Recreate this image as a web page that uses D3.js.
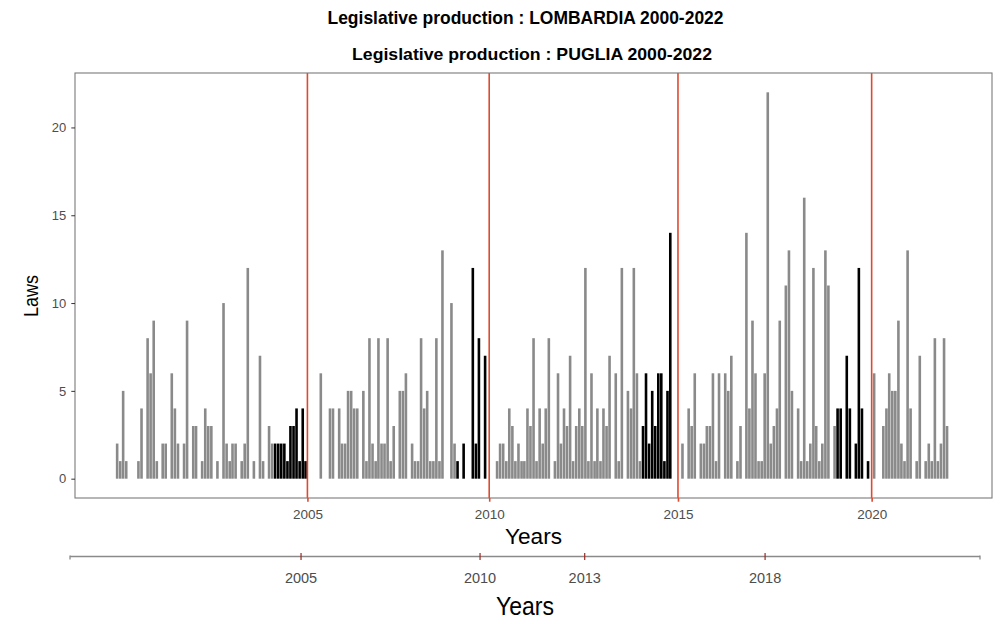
<!DOCTYPE html>
<html>
<head>
<meta charset="utf-8">
<script src="https://cdn.jsdelivr.net/npm/d3@7"></script>
<style>
  body { margin: 0; background: #fff; }
  text { font-family: "Liberation Sans", Arial, Helvetica, sans-serif; }
</style>
</head>
<body>
<svg id="chart" width="1002" height="624"></svg>
<script>
// Regional laws passed per month, Puglia 2000-2022 (one row per year, Jan..Dec)
const years = d3.range(2000, 2023);
const monthlyLaws = [
  [2, 1, 5, 1, 0, 0, 0, 1, 4, 0, 8, 6],      // 2000
  [9, 1, 0, 2, 2, 0, 6, 4, 2, 0, 2, 9],      // 2001
  [0, 3, 3, 0, 1, 4, 3, 3, 0, 1, 0, 10],     // 2002
  [2, 1, 2, 2, 0, 1, 2, 12, 0, 1, 0, 7],     // 2003
  [1, 0, 3, 2, 2, 2, 2, 2, 1, 3, 3, 4],      // 2004
  [1, 4, 1, 0, 0, 0, 0, 6, 0, 0, 4, 4],      // 2005
  [0, 4, 2, 2, 5, 5, 4, 4, 0, 5, 1, 8],      // 2006
  [2, 1, 8, 2, 2, 8, 1, 3, 0, 5, 5, 6],      // 2007
  [0, 2, 1, 1, 8, 4, 5, 1, 1, 8, 1, 13],     // 2008
  [0, 0, 10, 2, 1, 0, 2, 0, 0, 12, 2, 8],    // 2009
  [0, 7, 0, 0, 0, 1, 2, 2, 1, 4, 3, 1],      // 2010
  [2, 1, 1, 4, 3, 8, 1, 4, 2, 4, 8, 0],      // 2011
  [1, 6, 2, 4, 3, 7, 1, 3, 4, 3, 12, 1],     // 2012
  [6, 1, 4, 1, 4, 3, 7, 0, 6, 1, 12, 0],     // 2013
  [5, 4, 12, 6, 1, 3, 6, 2, 5, 3, 6, 6],     // 2014
  [1, 5, 14, 0, 0, 0, 2, 0, 4, 3, 6, 0],     // 2015
  [2, 2, 3, 3, 6, 1, 6, 0, 6, 5, 7, 0],      // 2016
  [1, 3, 0, 14, 4, 9, 6, 1, 1, 6, 22, 2],    // 2017
  [3, 4, 9, 0, 11, 13, 5, 0, 4, 1, 16, 1],   // 2018
  [2, 12, 3, 1, 2, 13, 11, 0, 3, 4, 4, 0],   // 2019
  [7, 4, 0, 2, 12, 4, 0, 1, 0, 6, 0, 0],     // 2020
  [3, 4, 6, 5, 5, 9, 2, 1, 13, 4, 0, 1],     // 2021
  [7, 0, 1, 2, 1, 8, 1, 2, 8, 3, 0, 0]       // 2022
];

// Puglia regional elections (red lines) and the first month of each outgoing council's last year
const pugliaElections = ["2005-04-03", "2010-03-28", "2015-05-31", "2020-09-20"];
const pugliaElectionLabels = ["2005", "2010", "2015", "2020"];
const finalYearStart = ["2004-05", "2009-05", "2014-06", "2019-10"];

// Lombardia regional elections, on the axis of the companion chart
const lombardiaElections = ["2005-04-03", "2010-03-28", "2013-02-24", "2018-03-04"];
const lombardiaElectionLabels = ["2005", "2010", "2013", "2018"];

const yTicks = [0, 5, 10, 15, 20];

const parseDay = d3.utcParse("%Y-%m-%d");
const parseMonth = d3.utcParse("%Y-%m");

const elections = pugliaElections.map(parseDay);
const finalStarts = finalYearStart.map(parseMonth);

const data = [];
years.forEach((yr, i) => {
  monthlyLaws[i].forEach((v, m) => {
    const date = new Date(Date.UTC(yr, m, 15));
    const final = elections.some((e, k) => date >= finalStarts[k] && date < e);
    data.push({ date, laws: v, final });
  });
});

const svg = d3.select("#chart");
svg.append("rect").attr("width", 1002).attr("height", 624).attr("fill", "#fff");

// ---- Titles -------------------------------------------------------------
svg.append("text")
  .attr("x", 525.5).attr("y", 24)
  .attr("text-anchor", "middle")
  .attr("font-size", 18.5).attr("font-weight", "bold").attr("fill", "#000")
  .attr("textLength", 396).attr("lengthAdjust", "spacingAndGlyphs")
  .text("Legislative production : LOMBARDIA 2000-2022");

svg.append("text")
  .attr("x", 532).attr("y", 59.5)
  .attr("text-anchor", "middle")
  .attr("font-size", 16.5).attr("font-weight", "bold").attr("fill", "#000")
  .attr("textLength", 360).attr("lengthAdjust", "spacingAndGlyphs")
  .text("Legislative production : PUGLIA 2000-2022");

// ---- Main panel ---------------------------------------------------------
const panel = { left: 75, right: 992, top: 73, bottom: 498 };

const x = d3.scaleUtc()
  .domain([parseDay("1998-11-19"), parseDay("2024-01-08")])
  .range([panel.left, panel.right]);

const y = d3.scaleLinear()
  .domain([-1.1, 23.1])
  .range([panel.bottom, panel.top]);

const barW = x(parseDay("2000-01-27")) - x(parseDay("2000-01-01"));

const g = svg.append("g");

g.selectAll("rect.bar")
  .data(data.filter(d => d.laws > 0))
  .join("rect")
  .attr("class", "bar")
  .attr("x", d => x(d.date) - barW / 2)
  .attr("width", barW)
  .attr("y", d => y(d.laws))
  .attr("height", d => y(0) - y(d.laws))
  .attr("fill", d => d.final ? "#000000" : "#8a8a8a");

// election markers
const red = "#de4a2e";
g.selectAll("line.election")
  .data(elections)
  .join("line")
  .attr("class", "election")
  .attr("x1", d => x(d)).attr("x2", d => x(d))
  .attr("y1", panel.top).attr("y2", panel.bottom)
  .attr("stroke", red).attr("stroke-width", 1.6);

// panel border
svg.append("rect")
  .attr("x", panel.left).attr("y", panel.top)
  .attr("width", panel.right - panel.left)
  .attr("height", panel.bottom - panel.top)
  .attr("fill", "none").attr("stroke", "#7a7a7a").attr("stroke-width", 1.1);

// ---- Y axis ---------------------------------------------------------------
const yAxis = svg.append("g")
  .attr("transform", `translate(${panel.left},0)`)
  .call(d3.axisLeft(y).tickValues(yTicks).tickSize(3.7).tickPadding(5));
yAxis.select(".domain").remove();
yAxis.selectAll(".tick line").attr("stroke", "#333");
yAxis.selectAll(".tick text")
  .attr("fill", "#4d4d4d").attr("font-size", 13)
  .attr("font-family", "Liberation Sans, Arial, sans-serif");

svg.append("text")
  .attr("transform", "translate(38,296) rotate(-90)")
  .attr("text-anchor", "middle")
  .attr("font-size", 21).attr("fill", "#000")
  .attr("textLength", 42).attr("lengthAdjust", "spacingAndGlyphs")
  .text("Laws");

// ---- X axis (Puglia) ------------------------------------------------------
const xAxis = svg.append("g")
  .attr("transform", `translate(0,${panel.bottom})`)
  .call(d3.axisBottom(x)
    .tickValues(elections)
    .tickFormat((d, i) => pugliaElectionLabels[i])
    .tickSize(3.7).tickPadding(7.5));
xAxis.select(".domain").remove();
xAxis.selectAll(".tick line").attr("stroke", red).attr("stroke-width", 1.6);
xAxis.selectAll(".tick text")
  .attr("fill", "#4d4d4d").attr("font-size", 13.5)
  .attr("font-family", "Liberation Sans, Arial, sans-serif");

svg.append("text")
  .attr("x", (panel.left + panel.right) / 2).attr("y", 543.5)
  .attr("text-anchor", "middle")
  .attr("font-size", 22).attr("fill", "#000")
  .attr("textLength", 57).attr("lengthAdjust", "spacingAndGlyphs")
  .text("Years");

// ---- X axis of the Lombardia chart ----------------------------------------
const x2 = d3.scaleUtc()
  .domain([parseDay("1998-10-28"), parseDay("2024-02-26")])
  .range([70, 980]);

const axisY = 556.5;
const lower = svg.append("g").attr("transform", `translate(0,${axisY})`);
lower.append("line")
  .attr("x1", x2.range()[0]).attr("x2", x2.range()[1])
  .attr("y1", 0).attr("y2", 0)
  .attr("stroke", "#8a8a8a").attr("stroke-width", 1.5);
lower.selectAll("line.end")
  .data(x2.range())
  .join("line")
  .attr("class", "end")
  .attr("x1", d => d).attr("x2", d => d)
  .attr("y1", -1).attr("y2", 3)
  .attr("stroke", "#8a8a8a").attr("stroke-width", 1.3);

const lomb = lombardiaElections.map(parseDay);
lower.selectAll("line.tick")
  .data(lomb)
  .join("line")
  .attr("class", "tick")
  .attr("x1", d => x2(d)).attr("x2", d => x2(d))
  .attr("y1", -3.5).attr("y2", 3.5)
  .attr("stroke", "#9b2a22").attr("stroke-width", 1.2);
lower.selectAll("text.lbl")
  .data(lomb)
  .join("text")
  .attr("class", "lbl")
  .attr("x", d => x2(d)).attr("y", 26.5)
  .attr("text-anchor", "middle")
  .attr("font-size", 14.5).attr("fill", "#4d4d4d")
  .text((d, i) => lombardiaElectionLabels[i]);

svg.append("text")
  .attr("x", 525).attr("y", 615)
  .attr("text-anchor", "middle")
  .attr("font-size", 25).attr("fill", "#000")
  .attr("textLength", 58).attr("lengthAdjust", "spacingAndGlyphs")
  .text("Years");
</script>
</body>
</html>
